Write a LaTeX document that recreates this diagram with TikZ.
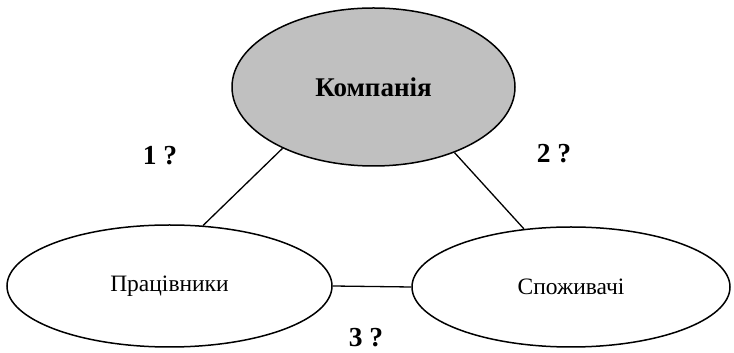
\documentclass[tikz,border=0pt]{standalone}
\usepackage{fontspec}
\setmainfont{Liberation Serif}
\usetikzlibrary{shapes.geometric}
\definecolor{shade}{RGB}{192,192,192}
\begin{document}
\begin{tikzpicture}[x=1pt,y=1pt]
\tikzstyle{party}=[ellipse,draw,line width=1.5pt,inner sep=0pt,align=center,font=\fontsize{23.5}{25}\selectfont]
\tikzstyle{link}=[-,solid,line width=1.3pt]
\tikzstyle{ask}=[inner sep=0pt,font=\bfseries\fontsize{27.5}{29}\selectfont]
\useasboundingbox (0,0) rectangle (734,353);
\node[style={party,minimum width=283pt,minimum height=158pt,fill={shade},font=\bfseries\fontsize{27}{29}\selectfont}] (c) at (373.5, 266) {Компанія};
\node[style={party,minimum width=325pt,minimum height=122pt}] (w) at (169.5, 67) {Працівники};
\node[style={party,minimum width=318pt,minimum height=120pt}] (s) at (571, 66) {Споживачі};
\node[ask] (q1) at (160, 197) {1 ?};
\node[ask] (q2) at (554, 199) {2 ?};
\node[ask] (q3) at (366, 15) {3 ?};
\path[]
    (c.214) [link] edge (w.61)
    (c.321) [link] edge (s.129.5)
    (w.east) [link] edge (s.west);
\end{tikzpicture}
\end{document}
